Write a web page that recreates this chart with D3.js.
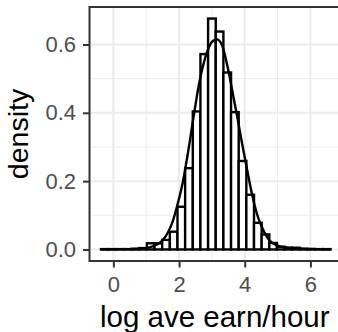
<!DOCTYPE html>
<html>
<head>
<meta charset="utf-8">
<title>log ave earn/hour</title>
<script src="https://d3js.org/d3.v7.min.js"></script>
<style>
  body { margin: 0; background: #fff; }
  text { font-family: "Liberation Sans", Arial, Helvetica, sans-serif; }
</style>
</head>
<body>
<div id="chart"></div>
<script>
// histogram breaks (31 edges -> 30 bins) and bar densities
var binEdges = [-0.377, -0.144, 0.089, 0.322, 0.555, 0.788, 1.021, 1.254, 1.487, 1.720,
                1.953, 2.186, 2.419, 2.652, 2.885, 3.118, 3.351, 3.584, 3.817, 4.050,
                4.283, 4.516, 4.749, 4.982, 5.215, 5.448, 5.681, 5.914, 6.147, 6.380, 6.613];
var binDensity = [0.001, 0.001, 0.001, 0.001, 0.002, 0.004, 0.018, 0.018, 0.028, 0.052,
                  0.125, 0.238, 0.404, 0.572, 0.676, 0.638, 0.518, 0.402, 0.259, 0.160,
                  0.078, 0.044, 0.019, 0.008, 0.005, 0.005, 0.002, 0.001, 0.001, 0.001];

// kernel density curve
var curveX = [-0.37, 0.5, 0.83, 1.1, 1.34, 1.5, 1.64, 1.8, 1.95, 2.1, 2.25, 2.43, 2.6, 2.75,
              2.9, 3.05, 3.15, 3.3, 3.5, 3.65, 3.77, 3.92, 4.07, 4.25, 4.42, 4.6, 4.75,
              5.0, 5.3, 5.7, 6.2, 6.61];
var curveY = [0.0005, 0.001, 0.002, 0.006, 0.015, 0.027, 0.046, 0.08, 0.13, 0.19, 0.27, 0.38,
              0.48, 0.545, 0.59, 0.612, 0.615, 0.6, 0.525, 0.45, 0.39, 0.31, 0.235, 0.15,
              0.09, 0.05, 0.027, 0.011, 0.005, 0.002, 0.001, 0.0005];

var xTicks = [0, 2, 4, 6];
var xMinor = [1, 3, 5];
var yTicks = [0, 0.2, 0.4, 0.6];
var yMinor = [0.1, 0.3, 0.5];

var W = 338, H = 332;
var pLeft = 89.5, pRight = 342, pTop = 7, pBottom = 261;

var svg = d3.select("#chart").append("svg")
    .attr("width", W)
    .attr("height", H);

// ggplot style 5% expansion
var xlo = binEdges[0], xhi = binEdges[binEdges.length - 1];
var xpad = (xhi - xlo) * 0.05;
var x = d3.scaleLinear().domain([xlo - xpad, xhi + xpad]).range([pLeft, pRight]);
var ymax = d3.max(binDensity);
var y = d3.scaleLinear().domain([-ymax * 0.05, ymax * 1.05]).range([pBottom, pTop]);

var bins = binDensity.map(function(d, i) {
    return { x0: binEdges[i], x1: binEdges[i + 1], d: d };
});

svg.append("rect")
    .attr("x", pLeft).attr("y", pTop)
    .attr("width", pRight - pLeft).attr("height", pBottom - pTop)
    .attr("fill", "#fff");

var grid = svg.append("g");
grid.selectAll(".xmin").data(xMinor).enter().append("line")
    .attr("x1", x).attr("x2", x).attr("y1", pTop).attr("y2", pBottom)
    .attr("stroke", "#ebebeb").attr("stroke-width", 1);
grid.selectAll(".ymin").data(yMinor).enter().append("line")
    .attr("y1", y).attr("y2", y).attr("x1", pLeft).attr("x2", pRight)
    .attr("stroke", "#ebebeb").attr("stroke-width", 1);
grid.selectAll(".xmaj").data(xTicks).enter().append("line")
    .attr("x1", x).attr("x2", x).attr("y1", pTop).attr("y2", pBottom)
    .attr("stroke", "#ebebeb").attr("stroke-width", 2);
grid.selectAll(".ymaj").data(yTicks).enter().append("line")
    .attr("y1", y).attr("y2", y).attr("x1", pLeft).attr("x2", pRight)
    .attr("stroke", "#ebebeb").attr("stroke-width", 2);

svg.selectAll(".bar").data(bins).enter().append("rect")
    .attr("x", function(d) { return x(d.x0); })
    .attr("width", function(d) { return x(d.x1) - x(d.x0); })
    .attr("y", function(d) { return y(d.d); })
    .attr("height", function(d) { return y(0) - y(d.d); })
    .attr("fill", "#fff")
    .attr("stroke", "#000")
    .attr("stroke-width", 2.4);

var line = d3.line()
    .x(function(d) { return x(d[0]); })
    .y(function(d) { return y(d[1]); })
    .curve(d3.curveMonotoneX);

svg.append("path")
    .datum(d3.zip(curveX, curveY))
    .attr("d", line)
    .attr("fill", "none")
    .attr("stroke", "#000")
    .attr("stroke-width", 2.4);

// panel border
svg.append("rect")
    .attr("x", pLeft).attr("y", pTop)
    .attr("width", pRight - pLeft).attr("height", pBottom - pTop)
    .attr("fill", "none")
    .attr("stroke", "#333")
    .attr("stroke-width", 2);

var xAxis = d3.axisBottom(x).tickValues(xTicks).tickSize(6.5).tickPadding(9)
    .tickFormat(d3.format("d"));
var gx = svg.append("g").attr("transform", "translate(0," + pBottom + ")").call(xAxis);
gx.select(".domain").remove();
gx.selectAll("line").attr("stroke", "#333").attr("stroke-width", 2);
gx.selectAll("text").attr("fill", "#4d4d4d").style("font-size", "22px");

var yAxis = d3.axisLeft(y).tickValues(yTicks).tickSize(6.5).tickPadding(7)
    .tickFormat(d3.format(".1f"));
var gy = svg.append("g").attr("transform", "translate(" + pLeft + ",0)").call(yAxis);
gy.select(".domain").remove();
gy.selectAll("line").attr("stroke", "#333").attr("stroke-width", 2);
gy.selectAll("text").attr("fill", "#4d4d4d").style("font-size", "22px");

svg.append("text")
    .attr("x", (pLeft + pRight) / 2 - 1)
    .attr("y", 327)
    .attr("text-anchor", "middle")
    .style("font-size", "29.5px")
    .attr("fill", "#000")
    .text("log ave earn/hour");

svg.append("text")
    .attr("transform", "translate(28," + ((pTop + pBottom) / 2) + ") rotate(-90)")
    .attr("text-anchor", "middle")
    .style("font-size", "28.5px")
    .attr("fill", "#000")
    .text("density");
</script>
</body>
</html>
